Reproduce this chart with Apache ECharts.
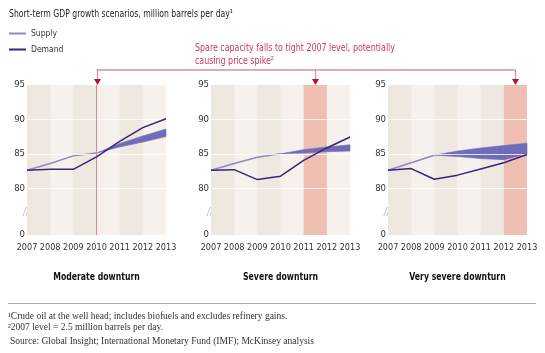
<!DOCTYPE html>
<html>
<head>
<meta charset="utf-8">
<script src="https://cdn.jsdelivr.net/npm/echarts@6/dist/echarts.min.js"></script>
<style>
  html, body { margin: 0; padding: 0; background: #fff; }
  #main { width: 545px; height: 353px; }
</style>
</head>
<body>
<div id="main"></div>
<script>
// data
var years = [2007, 2008, 2009, 2010, 2011, 2012, 2013];
var yTicks = [80, 85, 90, 95];
var panelNames = ['Moderate downturn', 'Severe downturn', 'Very severe downturn'];

var supplyModerate   = [82.6, 83.6, 84.7, 85.1, null, null, null];
var bandLowModerate  = [null, null, null, 85.1, 86.0, 86.7, 87.5];
var bandHighModerate = [null, null, null, 85.1, 86.5, 87.6, 88.6];
var demandModerate   = [82.6, 82.75, 82.75, 84.55, 86.8, 88.8, 90.1];

var supplySevere   = [82.6, 83.6, 84.5, 85.0, null, null, null];
var bandLowSevere  = [null, null, null, 85.0, 85.1, 85.3, 85.4];
var bandHighSevere = [null, null, null, 85.0, 85.6, 86.0, 86.3];
var demandSevere   = [82.6, 82.7, 81.25, 81.75, 84.05, 85.85, 87.45];

var supplyVery   = [82.6, 83.7, 84.8, null, null, null, null];
var bandLowVery  = [null, null, 84.8, 84.6, 84.3, 84.15, 85.0];
var bandHighVery = [null, null, 84.8, 85.4, 85.85, 86.2, 86.55];
var demandVery   = [82.6, 82.85, 81.3, 81.9, 82.8, 83.7, 84.9];

// where the spare capacity is tight (year span) and the arrow year
var tightFrom = [null, 2011, 2012];
var tightTo   = [null, 2012, 2013];
var arrowYear = [2010, 2011.5, 2012.5];

var yBreak = 73.2; // axis is broken, bottom of plot is labelled 0

var supplies = [supplyModerate, supplySevere, supplyVery];
var lows = [bandLowModerate, bandLowSevere, bandLowVery];
var highs = [bandHighModerate, bandHighSevere, bandHighVery];
var demands = [demandModerate, demandSevere, demandVery];

var FONT = '"DejaVu Sans Condensed", "Liberation Sans Narrow", "Liberation Sans", sans-serif';
var SERIF = '"Liberation Serif", serif';

var gridLefts = [27, 211, 388];
var grids = [], xAxes = [], yAxes = [], series = [];

function pairs(arr) {
  return years.map(function (y, i) { return [y, arr[i]]; });
}

// band drawn as one quad per year segment
function bandRenderer(lo, hi) {
  return function (params, api) {
    var i = params.dataIndex;
    if (i >= years.length - 1 || lo[i] === null || lo[i + 1] === null) return;
    var pts = [
      api.coord([years[i], hi[i]]), api.coord([years[i + 1], hi[i + 1]]),
      api.coord([years[i + 1], lo[i + 1]]), api.coord([years[i], lo[i]])
    ];
    return { type: 'polygon', shape: { points: pts },
      style: { fill: '#6f6dba', stroke: '#6f6dba', lineWidth: 0.6 } };
  };
}

for (var g = 0; g < 3; g++) {
  grids.push({ left: gridLefts[g], width: 139, top: 85, bottom: 118, show: true,
    backgroundColor: '#f6f1ec', borderWidth: 0 });
  xAxes.push({ type: 'value', gridIndex: g, min: 2007, max: 2013, interval: 1,
    axisLine: { show: false }, axisTick: { show: false }, splitLine: { show: false },
    axisLabel: { fontFamily: FONT, fontSize: 9, color: '#333', margin: 8,
      formatter: function (v) { return String(v); } } });
  yAxes.push({ type: 'value', gridIndex: g, min: yBreak, max: 95,
    axisLine: { show: false }, axisTick: { show: false }, splitLine: { show: false },
    axisLabel: { fontFamily: FONT, fontSize: 9.5, color: '#333', margin: 2,
      customValues: [yBreak].concat(yTicks),
      formatter: function (v) { return v < 75 ? '0' : String(v); } } });

  // background stripes, tight band, gridlines
  var areas = [];
  for (var k = 0; k < years.length - 1; k += 2) {
    areas.push([{ xAxis: years[k], itemStyle: { color: '#efe8e1' } }, { xAxis: years[k + 1] }]);
  }
  if (tightFrom[g] !== null) {
    areas.push([{ xAxis: tightFrom[g], itemStyle: { color: '#efbfb1' } }, { xAxis: tightTo[g] }]);
  }
  var lines = yTicks.slice(0, 3).map(function (t) {
    return { yAxis: t, lineStyle: { color: '#ffffff', width: 1, type: 'solid', opacity: 0.8 } };
  });
  if (g === 0) {
    lines.push({ xAxis: arrowYear[0], lineStyle: { color: '#d98890', width: 1, type: 'solid' } });
  }
  series.push({ type: 'line', name: 'bg' + g, xAxisIndex: g, yAxisIndex: g, data: [], z: 1,
    silent: true,
    markArea: { silent: true, data: areas },
    markLine: { silent: true, symbol: 'none', label: { show: false }, data: lines } });

  // supply range band
  series.push({ type: 'custom', name: 'band' + g, xAxisIndex: g, yAxisIndex: g, z: 3,
    silent: true, renderItem: bandRenderer(lows[g], highs[g]),
    data: pairs(highs[g]), encode: { x: 0, y: 1 } });

  series.push({ type: 'line', name: 'Supply', xAxisIndex: g, yAxisIndex: g, z: 4,
    data: pairs(supplies[g]), symbol: 'none', color: '#8e88c6',
    lineStyle: { width: 1.5, color: '#8e88c6' } });
  series.push({ type: 'line', name: 'Demand', xAxisIndex: g, yAxisIndex: g, z: 5,
    data: pairs(demands[g]), symbol: 'none', color: '#3e2279',
    lineStyle: { width: 1.5, color: '#3e2279' } });
}

var chart = echarts.init(document.getElementById('main'));
chart.setOption({
  animation: false,
  legend: { data: ['Supply', 'Demand'], orient: 'vertical', left: 4, top: 24,
    icon: 'rect', itemWidth: 17, itemHeight: 2, itemGap: 7,
    textStyle: { fontFamily: FONT, fontSize: 8.5, color: '#333' } },
  grid: grids,
  xAxis: xAxes,
  yAxis: yAxes,
  series: series
});

// title, annotation bracket, arrows, panel titles, footnotes
var red = '#c8375f';
var gfx = [];
gfx.push({ type: 'text', x: 9, y: 14, scaleX: 0.78, silent: true,
  style: { text: 'Short-term GDP growth scenarios, million barrels per day\u00b9',
    fontFamily: FONT, fontSize: 11, fill: '#222', verticalAlign: 'middle' } });

var ax = [];
for (var p = 0; p < 3; p++) {
  ax.push(chart.convertToPixel({ gridIndex: p }, [arrowYear[p], 95]));
}
var bracketY = 70;
gfx.push({ type: 'polyline', shape: { points: [[ax[0][0], bracketY], [ax[2][0], bracketY]] },
  style: { stroke: '#d98d9f', lineWidth: 1.5 }, silent: true });
for (var p = 0; p < 3; p++) {
  var x = Math.round(ax[p][0]) + 0.5;
  gfx.push({ type: 'line', shape: { x1: x, y1: bracketY, x2: x, y2: ax[p][1] - 4 },
    style: { stroke: '#d98d9f', lineWidth: 1.2 }, silent: true });
  gfx.push({ type: 'polygon', shape: { points: [[x - 3.5, ax[p][1] - 6], [x + 3.5, ax[p][1] - 6], [x, ax[p][1]]] },
    style: { fill: '#b4123a' }, silent: true });
  var c = chart.convertToPixel({ gridIndex: p }, [2010, yBreak]);
  gfx.push({ type: 'text', x: c[0], y: 277, scaleX: 0.82, silent: true,
    style: { text: panelNames[p], fontFamily: FONT, fontSize: 10.5, fontWeight: 'bold',
      fill: '#111', align: 'center', verticalAlign: 'middle' } });
  var b = chart.convertToPixel({ gridIndex: p }, [2007, 76.5]);
  gfx.push({ type: 'text', x: b[0] - 4, y: b[1], silent: true,
    style: { text: '//', fontFamily: FONT, fontSize: 10, fontStyle: 'italic',
      fill: '#bbb', align: 'left', verticalAlign: 'middle' } });
}
gfx.push({ type: 'text', x: 195, y: 42, scaleX: 0.8, silent: true,
  style: { text: 'Spare capacity falls to tight 2007 level, potentially\ncausing price spike\u00b2',
    fontFamily: FONT, fontSize: 11, lineHeight: 13, fill: red } });
gfx.push({ type: 'line', shape: { x1: 8, y1: 303.5, x2: 536, y2: 303.5 },
  style: { stroke: '#aaa', lineWidth: 1 }, silent: true });
gfx.push({ type: 'text', x: 8, y: 316, silent: true,
  style: { text: '\u00b9Crude oil at the well head; includes biofuels and excludes refinery gains.',
    fontFamily: SERIF, fontSize: 9.5, fill: '#333', verticalAlign: 'middle' } });
gfx.push({ type: 'text', x: 8, y: 327, silent: true,
  style: { text: '\u00b22007 level = 2.5 million barrels per day.',
    fontFamily: SERIF, fontSize: 9.5, fill: '#333', verticalAlign: 'middle' } });
gfx.push({ type: 'text', x: 10, y: 341, silent: true,
  style: { text: 'Source: Global Insight; International Monetary Fund (IMF); McKinsey analysis',
    fontFamily: SERIF, fontSize: 9.5, fill: '#333', verticalAlign: 'middle' } });

chart.setOption({ graphic: gfx });
</script>
</body>
</html>
